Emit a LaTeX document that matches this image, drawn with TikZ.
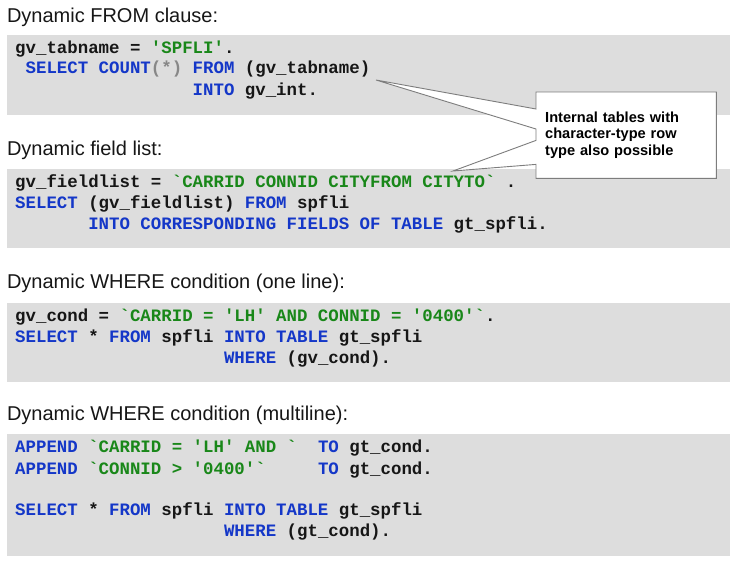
\documentclass[tikz,border=0pt]{standalone}
\usepackage{fontspec}
\setmainfont{Liberation Sans}
\setmonofont{Liberation Mono}
\usepackage{xcolor}
\usetikzlibrary{positioning,calc}
\pgfdeclarelayer{bg}
\pgfdeclarelayer{mid}
\pgfsetlayers{bg,mid,main}
\definecolor{kwblue}{RGB}{20,55,200}
\definecolor{litgreen}{RGB}{25,135,25}
\definecolor{stargray}{RGB}{135,135,135}
\definecolor{boxgray}{RGB}{221,221,221}
\definecolor{notegray}{RGB}{125,125,125}
\definecolor{ink}{RGB}{22,22,22}
\newcommand{\kwd}[1]{\textcolor{kwblue}{#1}}
\newcommand{\lit}[1]{\textcolor{litgreen}{#1}}
\newcommand{\gap}[1]{\hspace*{#1\fontdimen2\font}}
\frenchspacing

\begin{document}
\begin{tikzpicture}[x = 1pt, y = -1pt,
  heading/.style = {anchor = base west, inner sep = 0, text = ink,
    font = \fontsize{20}{24}\selectfont},
  code/.style = {anchor = base west, inner sep = 0, text = ink,
    font = \ttfamily\bfseries\fontsize{17.4}{21}\selectfont},
  note/.style = {anchor = north west, inner xsep = 9pt, inner ysep = 0,
    minimum width = 180pt, minimum height = 86pt, text width = 162pt,
    align = left, text = black, font = \bfseries\fontsize{14.6}{16.5}\selectfont},
  callout/.style = {draw = notegray, fill = white, line width = .9pt, line join = miter}]
\useasboundingbox (0,0) rectangle (732,562);

% grey code panels
\begin{pgfonlayer}{bg}
\fill[boxgray] (7,35) rectangle (730,115);
\fill[boxgray] (7,169) rectangle (730,248);
\fill[boxgray] (7,303) rectangle (730,382);
\fill[boxgray] (7,434) rectangle (730,556);
\end{pgfonlayer}

% dynamic FROM clause
\node[heading] (h1) at (6.8,22.5) {Dynamic FROM clause:};
\node[code] (c11) at (15,53) {gv\_tabname = \lit{'SPFLI'}.};
\node[code] (c12) at (15,74) {\gap{1}\kwd{SELECT COUNT}\textcolor{stargray}{(*)} \kwd{FROM} (gv\_tabname)};
\node[code] (c13) at (15,95) {\gap{17}\kwd{INTO} gv\_int.};

% dynamic field list
\node[heading] (h2) at (6.8,155) {Dynamic field list:};
\node[code] (c21) at (15,187.5) {gv\_fieldlist = \lit{`CARRID CONNID CITYFROM CITYTO`} .};
\node[code] (c22) at (15,208.5) {\kwd{SELECT} (gv\_fieldlist) \kwd{FROM} spfli};
\node[code] (c23) at (15,229.5) {\gap{7}\kwd{INTO CORRESPONDING FIELDS OF TABLE} gt\_spfli.};

% dynamic WHERE, one line
\node[heading] (h3) at (6.8,288) {Dynamic WHERE condition (one line):};
\node[code] (c31) at (15,321) {gv\_cond = \lit{`CARRID = 'LH' AND CONNID = '0400'`}.};
\node[code] (c32) at (15,342) {\kwd{SELECT} * \kwd{FROM} spfli \kwd{INTO TABLE} gt\_spfli};
\node[code] (c33) at (15,363) {\gap{20}\kwd{WHERE} (gv\_cond).};

% dynamic WHERE, multiline
\node[heading] (h4) at (6.8,420) {Dynamic WHERE condition (multiline):};
\node[code] (c41) at (15,452.5) {\kwd{APPEND} \lit{`CARRID = 'LH' AND `}\gap{2}\kwd{TO} gt\_cond.};
\node[code] (c42) at (15,474) {\kwd{APPEND} \lit{`CONNID > '0400'`}\gap{5}\kwd{TO} gt\_cond.};
\node[code] (c43) at (15,515) {\kwd{SELECT} * \kwd{FROM} spfli \kwd{INTO TABLE} gt\_spfli};
\node[code] (c44) at (15,536.5) {\gap{20}\kwd{WHERE} (gt\_cond).};

% callout
\node[note] (note) at (536,92) {Internal tables with\\character-type row\\type also possible};
\coordinate (tip1) at (376,80);
\coordinate (tip2) at (453,171);
\begin{pgfonlayer}{mid}
\draw[callout] (note.north west) -- (note.north east) -- (note.south east) -- (note.south west)
  -- ($(note.south west)+(0,-14)$) -- (tip2) -- ($(note.south west)+(0,-38)$)
  -- ($(note.north west)+(0,37)$) -- (tip1) -- ($(note.north west)+(0,17)$) -- cycle;
\end{pgfonlayer}
\end{tikzpicture}
\end{document}
